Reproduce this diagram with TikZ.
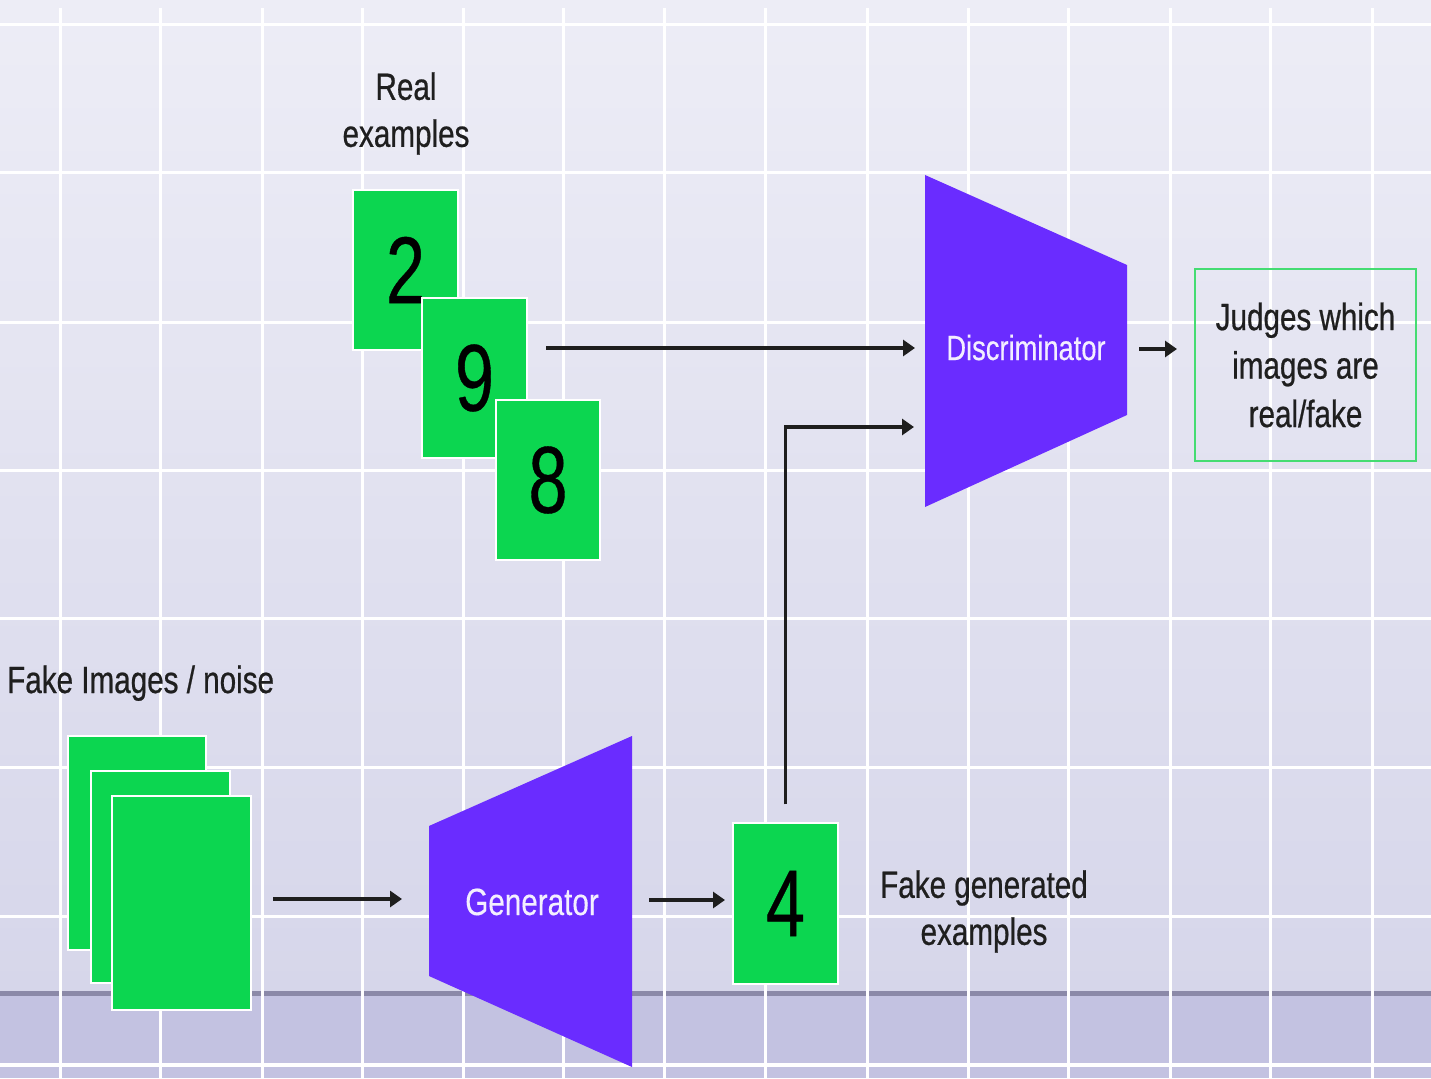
\documentclass[tikz,border=0pt]{standalone}
\usepackage{fontspec}
\setmainfont{Liberation Sans}[FakeStretch=0.78,FakeBold=0.6]
\newfontfamily\digitf{Liberation Sans}[FakeStretch=0.74,FakeBold=0.4]
\newfontfamily\wlblf{Liberation Sans}[FakeStretch=0.78,FakeBold=0.3]
\usetikzlibrary{arrows.meta}
\definecolor{bgtop}{HTML}{EDEDF6}
\definecolor{bgbot}{HTML}{D6D6EA}
\definecolor{band}{HTML}{C3C2E1}
\definecolor{bandline}{HTML}{8B89A8}
\definecolor{ggreen}{HTML}{0CD650}
\definecolor{jgreen}{HTML}{45DC72}
\definecolor{gpurple}{HTML}{6A2CFF}
\definecolor{arrcol}{HTML}{1E1E1E}
\tikzset{
  gridline/.style={white, line width=3pt},
  gbox/.style={fill=ggreen, draw=white, line width=1.5pt, inner sep=0pt, font=\digitf\fontsize{95}{95}\selectfont},
  jbox/.style={draw=jgreen, line width=2.5pt, inner sep=0pt, minimum width=221pt, minimum height=192pt, align=center, font=\fontsize{38}{48.5}\selectfont, text=black!88},
  lbl/.style={inner sep=0pt, align=center, font=\fontsize{38}{47}\selectfont, text=black!88},
  wlbl/.style={inner sep=0pt, text=white!92!gpurple, font=\wlblf\fontsize{35}{40}\selectfont},
  arr/.style={draw=arrcol, line width=3.2pt, -{Triangle[length=12pt,width=16pt]}},
  trap/.style={fill=gpurple}
}
\begin{document}
\begin{tikzpicture}[x=1pt,y=-1pt]
\useasboundingbox (0,0) rectangle (1431,1078);
% background
\shade[top color=bgtop, bottom color=bgbot] (0,0) rectangle (1431,992);
\fill[band] (0,992) rectangle (1431,1078);
\fill[bandline] (0,991) rectangle (1431,996);
% grid
\foreach \gx in {60,160,262,362,463,563,664,765,867,968,1068,1170,1270,1372}
  \draw[gridline] (\gx,8) -- (\gx,1078);
\foreach \gy in {25,173,322,470,618,767,916}
  \draw[gridline] (0,\gy) -- (1431,\gy);
\draw[gridline, line width=4.5pt] (0,1065) -- (1431,1065);

% real examples
\node[gbox, minimum width=105pt, minimum height=160pt] (r2) at (405.5,270) {2};
\node[gbox, minimum width=105pt, minimum height=160pt] (r9) at (474.5,378) {9};
\node[gbox, minimum width=104pt, minimum height=160pt] (r8) at (548,480) {8};
\node[lbl] (reallbl) at (406,113.5) {Real\\examples};

% fake images / noise
\node[gbox, minimum width=138pt, minimum height=214pt] (n1) at (137,843) {};
\node[gbox, minimum width=139pt, minimum height=212pt] (n2) at (160.5,877) {};
\node[gbox, minimum width=139pt, minimum height=214pt] (n3) at (181.5,903) {};
\node[lbl, anchor=base west] (noiselbl) at (7,693) {Fake Images / noise};

% generator
\fill[trap] (429,826) -- (632,736) -- (632,1067) -- (429,976) -- cycle;
\node[wlbl, anchor=base, font=\wlblf\fontsize{38}{40}\selectfont] (gen) at (532,915) {Generator};

% fake generated
\node[gbox, minimum width=105pt, minimum height=161pt] (f4) at (785.5,903.5) {4};
\node[lbl] (fakelbl) at (984,911.5) {Fake generated\\examples};

% discriminator
\fill[trap] (925,175) -- (1127,265) -- (1127,415) -- (925,507) -- cycle;
\node[wlbl, anchor=base] (disc) at (1026,360) {Discriminator};

% judge box
\node[jbox] (judge) at (1305.5,365) {Judges which\\images are\\real/fake};

% connector end points
\coordinate (rs) at (546,348);
\coordinate (din1) at (915,348);
\coordinate (din2) at (914,427);
\coordinate (dout) at (1139,349);
\coordinate (jin) at (1177,349);
\coordinate (ns) at (273,899);
\coordinate (gin) at (402,899);
\coordinate (gout) at (649,900);
\coordinate (fin) at (725,900);

% connectors
\draw[arr] (rs) -- (din1);
\draw[arr] ([yshift=18pt]f4.north) |- (din2);
\draw[arr] (dout) -- (jin);
\draw[arr] (ns) -- (gin);
\draw[arr] (gout) -- (fin);
\end{tikzpicture}
\end{document}
